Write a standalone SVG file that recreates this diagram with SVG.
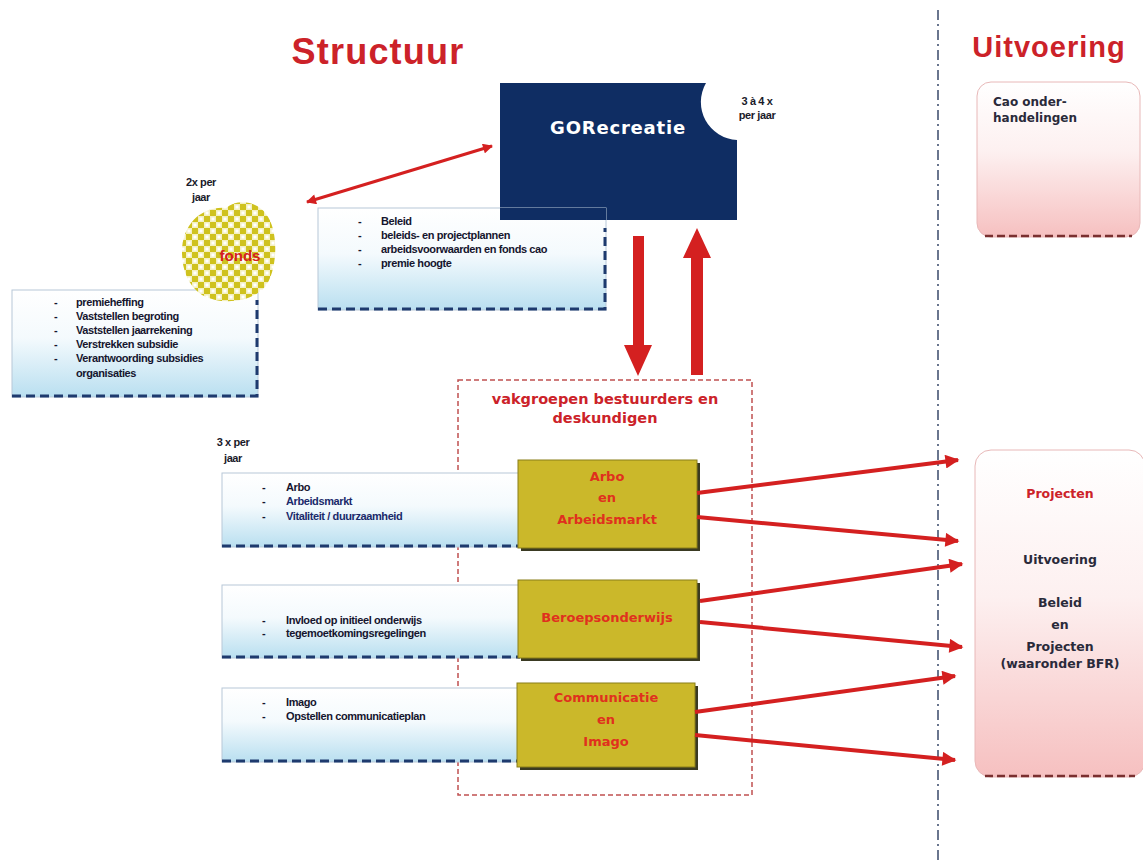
<svg xmlns="http://www.w3.org/2000/svg" width="1143" height="860" viewBox="0 0 1143 860">
<defs>
<linearGradient id="gBlue" x1="0" y1="0" x2="0" y2="1">
<stop offset="0" stop-color="#ffffff"/><stop offset="0.45" stop-color="#f4fafd"/><stop offset="1" stop-color="#b9dff0"/>
</linearGradient>
<linearGradient id="gPink" x1="0" y1="0" x2="0" y2="1">
<stop offset="0" stop-color="#ffffff"/><stop offset="0.45" stop-color="#fdf0f0"/><stop offset="1" stop-color="#f6c0c0"/>
</linearGradient>
<pattern id="chk" width="12" height="12" patternUnits="userSpaceOnUse">
<rect width="12" height="12" fill="#f4f0c0"/>
<rect width="6" height="6" fill="#cfc21e"/>
<rect x="6" y="6" width="6" height="6" fill="#cfc21e"/>
<rect x="1.5" y="7.5" width="3" height="3" fill="#ffffff"/>
<rect x="7.5" y="1.5" width="3" height="3" fill="#ffffff"/>
</pattern>
<marker id="ah" viewBox="0 0 10 10" refX="9" refY="5" markerWidth="16" markerHeight="14" markerUnits="userSpaceOnUse" orient="auto-start-reverse">
<path d="M0,0 L10,5 L0,10 Z" fill="#d42020"/>
</marker>
<marker id="ahs" viewBox="0 0 10 10" refX="9" refY="5" markerWidth="12" markerHeight="10" markerUnits="userSpaceOnUse" orient="auto-start-reverse">
<path d="M0,0 L10,5 L0,10 Z" fill="#d42020"/>
</marker>
<style>
.title{font-family:"Liberation Sans",Arial,sans-serif;font-weight:bold;fill:#cc2229}
.sm{font-family:"Liberation Sans",Arial,sans-serif;font-weight:bold;font-size:11px;fill:#1a1a2a;letter-spacing:-0.4px}
.bl{font-family:"Liberation Sans",Arial,sans-serif;font-weight:bold;font-size:11px;fill:#15152e;letter-spacing:-0.4px}
.blu{fill:#1a2a6a}
.lbox{fill:url(#gBlue);stroke:#b8c8d8;stroke-width:1}
.dash{stroke:#1e3a6e;stroke-width:3;stroke-dasharray:9 5;fill:none}
.ybox{fill:#cbb82a;stroke:#8a7e18;stroke-width:1}
.yshadow{fill:#3a3a22}
.yt{font-family:"DejaVu Sans",Verdana,sans-serif;font-weight:bold;font-size:13px;fill:#e0301e;text-anchor:middle}
.pt{font-family:"DejaVu Sans",Verdana,sans-serif;font-weight:bold;font-size:12.5px;fill:#2a2a3a;text-anchor:middle}
.ptr{fill:#cc2229}
.conn{stroke:#d42020;stroke-width:4;fill:none}
</style>
</defs>
<rect width="1143" height="860" fill="#ffffff"/>

<!-- Titles -->
<text class="title" x="378" y="64" font-size="36" letter-spacing="1.2" text-anchor="middle">Structuur</text>
<text class="title" x="1049" y="57" font-size="29" letter-spacing="1" text-anchor="middle">Uitvoering</text>

<!-- vertical separator -->
<line x1="938" y1="10" x2="938" y2="860" stroke="#3a4a6a" stroke-width="1.5" stroke-dasharray="10 4 2 4"/>

<!-- GORecreatie -->
<g id="gorecreatie">
<path d="M500,83 L706,83 A38,38 0 0 0 737,140 L737,220 L500,220 Z" fill="#0f2d63"/>
<text x="618" y="134" font-family="DejaVu Sans,Verdana,sans-serif" font-weight="bold" font-size="18" fill="#ffffff" text-anchor="middle" letter-spacing="0.8">GORecreatie</text>
<text class="sm" x="757" y="105" text-anchor="middle">3 à 4 x</text>
<text class="sm" x="757" y="119" text-anchor="middle">per jaar</text>
</g>

<!-- Beleid box -->
<g id="beleid">
<rect class="lbox" x="318" y="208" width="288" height="102"/>
<path class="dash" d="M318,309 L605,309 L605,228"/>
<text class="bl" x="358" y="225">-</text><text class="bl" x="381" y="225">Beleid</text>
<text class="bl" x="358" y="239">-</text><text class="bl" x="381" y="239">beleids- en projectplannen</text>
<text class="bl" x="358" y="253">-</text><text class="bl" x="381" y="253">arbeidsvoorwaarden en fonds cao</text>
<text class="bl" x="358" y="267">-</text><text class="bl" x="381" y="267">premie hoogte</text>
</g>
<rect x="500" y="208" width="106" height="12" fill="#0f2d63"/>

<!-- Fonds left box -->
<g id="fondsbox">
<rect class="lbox" x="12" y="290" width="246" height="107"/>
<path class="dash" d="M12,396 L257,396 L257,300"/>
<text class="bl" x="54" y="306">-</text><text class="bl" x="76" y="306">premieheffing</text>
<text class="bl" x="54" y="320">-</text><text class="bl" x="76" y="320">Vaststellen begroting</text>
<text class="bl" x="54" y="334">-</text><text class="bl" x="76" y="334">Vaststellen jaarrekening</text>
<text class="bl" x="54" y="348">-</text><text class="bl" x="76" y="348">Verstrekken subsidie</text>
<text class="bl" x="54" y="362">-</text><text class="bl" x="76" y="362">Verantwoording subsidies</text>
<text class="bl" x="76" y="377">organisaties</text>
</g>

<!-- fonds blob -->
<g id="fonds">
<path d="M182,252 C182,224 202,206 226,208 C238,198 258,202 266,214 C279,230 278,270 265,287 C252,302 222,306 202,295 C187,285 182,268 182,252 Z" fill="url(#chk)"/>
<text x="240" y="261" font-family="Liberation Sans,Arial,sans-serif" font-weight="bold" font-size="15" fill="#d42020" text-anchor="middle">fonds</text>
<text class="sm" x="201" y="186" text-anchor="middle">2x per</text>
<text class="sm" x="201" y="201" text-anchor="middle">jaar</text>
</g>

<!-- vakgroepen container -->
<g id="vakgroepen">
<rect x="458" y="380" width="294" height="415" fill="none" stroke="#c05050" stroke-width="1.5" stroke-dasharray="5 3"/>
<text x="605" y="404" font-family="DejaVu Sans,Verdana,sans-serif" font-weight="bold" font-size="14.5" fill="#cc2229" text-anchor="middle">vakgroepen bestuurders en</text>
<text x="605" y="423" font-family="DejaVu Sans,Verdana,sans-serif" font-weight="bold" font-size="14.5" fill="#cc2229" text-anchor="middle">deskundigen</text>
</g>

<text class="sm" x="233" y="446" text-anchor="middle">3 x per</text>
<text class="sm" x="233" y="462" text-anchor="middle">jaar</text>

<!-- Row 1 -->
<g id="arbo-list">
<rect class="lbox" x="222" y="473" width="298" height="74"/>
<path class="dash" d="M222,546 L520,546"/>
<text class="bl" x="262" y="491">-</text><text class="bl" x="286" y="491">Arbo</text>
<text class="bl" x="262" y="505">-</text><text class="bl blu" x="286" y="505">Arbeidsmarkt</text>
<text class="bl" x="262" y="520">-</text><text class="bl blu" x="286" y="520">Vitaliteit / duurzaamheid</text>
</g>
<g id="arbo">
<rect class="yshadow" x="521" y="463" width="179" height="88"/>
<rect class="ybox" x="518" y="460" width="179" height="88"/>
<text class="yt" x="607" y="481">Arbo</text>
<text class="yt" x="607" y="502">en</text>
<text class="yt" x="607" y="524">Arbeidsmarkt</text>
</g>

<!-- Row 2 -->
<g id="onderwijs-list">
<rect class="lbox" x="222" y="585" width="298" height="73"/>
<path class="dash" d="M222,657 L520,657"/>
<text class="bl" x="262" y="624">-</text><text class="bl" x="286" y="624">Invloed op initieel onderwijs</text>
<text class="bl" x="262" y="637">-</text><text class="bl" x="286" y="637">tegemoetkomingsregelingen</text>
</g>
<g id="beroepsonderwijs">
<rect class="yshadow" x="521" y="583" width="179" height="78"/>
<rect class="ybox" x="518" y="580" width="179" height="78"/>
<text class="yt" x="607" y="622">Beroepsonderwijs</text>
</g>

<!-- Row 3 -->
<g id="communicatie-list">
<rect class="lbox" x="222" y="688" width="298" height="74"/>
<path class="dash" d="M222,761 L520,761"/>
<text class="bl" x="262" y="706">-</text><text class="bl" x="286" y="706">Imago</text>
<text class="bl" x="262" y="720">-</text><text class="bl" x="286" y="720">Opstellen communicatieplan</text>
</g>
<g id="communicatie">
<rect class="yshadow" x="520" y="686" width="178" height="84"/>
<rect class="ybox" x="517" y="683" width="178" height="84"/>
<text class="yt" x="606" y="702">Communicatie</text>
<text class="yt" x="606" y="724">en</text>
<text class="yt" x="606" y="746">Imago</text>
</g>

<!-- Right boxes -->
<g id="cao">
<rect x="977" y="82" width="163" height="155" rx="14" fill="url(#gPink)" stroke="#e8b8b8" stroke-width="1"/>
<path d="M985,236 L1132,236" stroke="#7a3030" stroke-width="2.5" stroke-dasharray="8 4" fill="none"/>
<text x="993" y="106" font-family="DejaVu Sans,Verdana,sans-serif" font-weight="bold" font-size="12" fill="#2a2a3a">Cao onder-</text>
<text x="993" y="122" font-family="DejaVu Sans,Verdana,sans-serif" font-weight="bold" font-size="12" fill="#2a2a3a">handelingen</text>
</g>
<g id="projecten">
<rect x="975" y="450" width="170" height="327" rx="16" fill="url(#gPink)" stroke="#e8b8b8" stroke-width="1"/>
<path d="M985,776 L1135,776" stroke="#7a3030" stroke-width="2.5" stroke-dasharray="8 4" fill="none"/>
<text class="pt ptr" x="1060" y="498">Projecten</text>
<text class="pt" x="1060" y="564">Uitvoering</text>
<text class="pt" x="1060" y="607">Beleid</text>
<text class="pt" x="1060" y="629">en</text>
<text class="pt" x="1060" y="651">Projecten</text>
<text class="pt" x="1060" y="668">(waaronder BFR)</text>
</g>

<!-- Connectors -->
<g id="connectors">
<line x1="307" y1="202" x2="492" y2="146" stroke="#d42020" stroke-width="3" marker-start="url(#ahs)" marker-end="url(#ahs)"/>
<polygon points="633,236 644,236 644,345 652,345 638,376 624,345 633,345" fill="#d42020"/>
<polygon points="691,375 703,375 703,258 711,258 697,228 683,258 691,258" fill="#d42020"/>
<line class="conn" x1="697" y1="493" x2="958" y2="460" marker-end="url(#ah)"/>
<line class="conn" x1="697" y1="517" x2="958" y2="541" marker-end="url(#ah)"/>
<line class="conn" x1="700" y1="601" x2="962" y2="564" marker-end="url(#ah)"/>
<line class="conn" x1="700" y1="622" x2="962" y2="647" marker-end="url(#ah)"/>
<line class="conn" x1="695" y1="712" x2="955" y2="676" marker-end="url(#ah)"/>
<line class="conn" x1="695" y1="735" x2="955" y2="760" marker-end="url(#ah)"/>
</g>
</svg>
